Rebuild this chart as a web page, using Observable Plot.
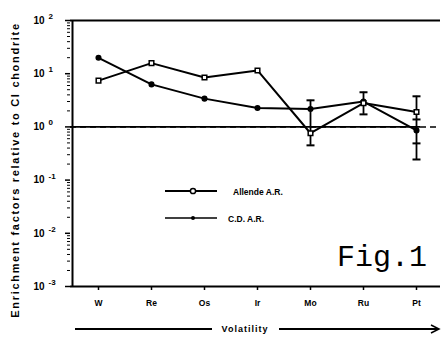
<!DOCTYPE html>
<html><head><meta charset="utf-8">
<script src="https://cdn.jsdelivr.net/npm/d3@7"></script>
<script src="https://cdn.jsdelivr.net/npm/@observablehq/plot@0.6"></script>
<style>
body{margin:0;background:#fff}
#wrap{position:relative;width:442px;height:337px;background:#fff}
#ov{position:absolute;left:0;top:0;pointer-events:none}
</style></head><body><div id="wrap"></div>
<script>
const elements = ["W", "Re", "Os", "Ir", "Mo", "Ru", "Pt"];
const allende = [7.4, 15.8, 8.5, 11.5, 0.76, 2.8, 1.9];
const cdAR = [19.9, 6.3, 3.4, 2.26, 2.17, 3.0, 0.86];
const errEl = ["Mo", "Ru", "Pt"];
const errLo = [0.45, 1.72, 0.244];
const errHi = [3.16, 4.48, 3.76];
const innerCapEl = ["Pt", "Pt"];
const innerCapVal = [1.38, 0.49];
const yTicks = [1e-3, 1e-2, 1e-1, 1, 10, 100];
const yTickBase = "10";
const yTickExp = ["-3", "-2", "-1", "0", "1", "2"];
const seriesNames = ["Allende A.R.", "C.D. A.R."];

const minor = [];
for (let e = -3; e < 2; e++) for (let k = 2; k <= 9; k++) minor.push(k * Math.pow(10, e));

const allendeData = elements.map((el, i) => ({el, v: allende[i]}));
const cdData = elements.map((el, i) => ({el, v: cdAR[i]}));
const errData = errEl.map((el, i) => ({el, lo: errLo[i], hi: errHi[i]}));
const capData = errData.flatMap(d => [{el: d.el, v: d.lo}, {el: d.el, v: d.hi}])
  .concat(innerCapEl.map((el, i) => ({el, v: innerCapVal[i]})));

const capSymbol = {draw(ctx, size) { const w = 4; ctx.moveTo(-w, 0); ctx.lineTo(w, 0); }};

const chart = Plot.plot({
  width: 442, height: 337,
  marginLeft: 70, marginRight: 2, marginTop: 20, marginBottom: 51,
  x: {type: "point", domain: elements, range: [96, 417], padding: 0},
  y: {type: "log", domain: [1e-3, 100]},
  style: {fontFamily: "'Liberation Sans', Arial, sans-serif", fontWeight: "bold", fontSize: "9px", background: "white", color: "black"},
  marks: [
    Plot.ruleY([1], {stroke: "black", strokeWidth: 1.5, strokeDasharray: "6,4"}),
    Plot.ruleY([1], {stroke: "black", strokeWidth: 1.8, insetRight: 20}),
    Plot.ruleY([100], {stroke: "black", strokeWidth: 2}),
    Plot.ruleY([1e-3], {stroke: "black", strokeWidth: 2}),
    Plot.ruleX([elements[0]], {dx: -26, stroke: "black", strokeWidth: 2}),
    Plot.axisY(minor, {tickSize: 3, tickFormat: () => "", label: null, strokeWidth: 1}),
    Plot.axisY(yTicks, {tickSize: 5, tickPadding: 21, tickFormat: () => yTickBase, label: null, fontSize: 10, strokeWidth: 1.5}),
    Plot.axisY(yTicks, {tickSize: 0, tickPadding: 22, tickFormat: d => yTickExp[yTicks.indexOf(d)], textAnchor: "start", dy: -4, label: null, fontSize: 8}),
    Plot.axisX({tickSize: 4, tickPadding: 9, label: null, fontSize: 8.5, strokeWidth: 1.5}),
    Plot.ruleX(errData, {x: "el", y1: "lo", y2: "hi", stroke: "black", strokeWidth: 1.8}),
    Plot.dot(capData, {x: "el", y: "v", symbol: capSymbol, stroke: "black", strokeWidth: 2, fill: "none"}),
    Plot.line(allendeData, {x: "el", y: "v", stroke: "black", strokeWidth: 2}),
    Plot.line(cdData, {x: "el", y: "v", stroke: "black", strokeWidth: 2}),
    Plot.dot(cdData, {x: "el", y: "v", r: 2.3, fill: "black", stroke: "black"}),
    Plot.dot(allendeData, {x: "el", y: "v", symbol: "square", r: 2.6, fill: "white", stroke: "black", strokeWidth: 1.5})
  ]
});
const wrap = document.getElementById("wrap");
wrap.appendChild(chart);

const ns = "http://www.w3.org/2000/svg";
const ov = document.createElementNS(ns, "svg");
ov.setAttribute("id", "ov");
ov.setAttribute("width", 442);
ov.setAttribute("height", 337);
ov.innerHTML = `
<g font-family="'Liberation Sans', Arial, sans-serif" font-weight="bold" fill="black">
  <text transform="translate(19,170) rotate(-90)" text-anchor="middle" font-size="11" letter-spacing="1.7">Enrichment factors relative to CI chondrite</text>
  <line x1="165" x2="217" y1="191" y2="191" stroke="black" stroke-width="1.8"/>
  <circle cx="193" cy="191" r="2.6" fill="white" stroke="black" stroke-width="1.5"/>
  <text x="233" y="194.5" font-size="8.5">${seriesNames[0]}</text>
  <line x1="165" x2="217" y1="218" y2="218" stroke="black" stroke-width="1.5"/>
  <circle cx="193" cy="218" r="2" fill="black"/>
  <text x="228" y="221.5" font-size="8.5">${seriesNames[1]}</text>
  <text x="337" y="266" font-family="'Liberation Mono', 'Courier New', monospace" font-weight="normal" font-size="30">Fig.1</text>
  <line x1="75" x2="212" y1="329" y2="329" stroke="black" stroke-width="1.8"/>
  <text x="245" y="332" text-anchor="middle" font-size="9" letter-spacing="1">Volatility</text>
  <line x1="279" x2="438" y1="329" y2="329" stroke="black" stroke-width="1.8"/>
  <path d="M431,325 L439,329 L431,333" fill="none" stroke="black" stroke-width="1.5"/>
</g>`;
wrap.appendChild(ov);
</script>
</body></html>
